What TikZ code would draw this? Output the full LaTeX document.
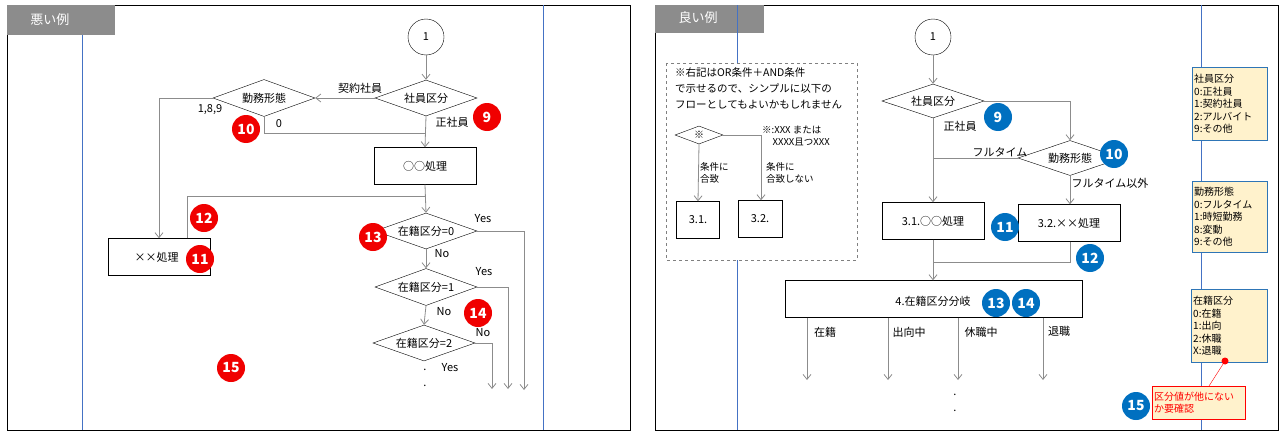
\documentclass[tikz,border=0pt]{standalone}
\usepackage{fontspec}
\setmainfont{Noto Sans CJK JP}
\usetikzlibrary{arrows.meta,shapes.geometric}
\definecolor{lg}{HTML}{8C8C8C}
\definecolor{bb}{HTML}{0070C0}
\definecolor{rb}{HTML}{F00000}
\definecolor{ly}{HTML}{FFF2CC}
\definecolor{lb}{HTML}{2E75B6}
\definecolor{vl}{HTML}{4472C4}
\tikzset{
 ln/.style={draw=lg,line width=0.8pt},
 ar/.style={ln,-{Straight Barb[length=5pt,width=8pt]}},
 dia/.style={draw,diamond,aspect=2.8,inner sep=0pt,font=\fontsize{11}{13}\selectfont},
 bx/.style={draw,font=\fontsize{11}{13}\selectfont},
 lab/.style={font=\fontsize{11}{13}\selectfont,inner sep=0pt},
 rbad/.style={circle,fill=rb,text=white,minimum size=28pt,inner sep=0pt,font=\fontsize{14}{14}\selectfont\bfseries},
 bbad/.style={circle,fill=bb,text=white,minimum size=28pt,inner sep=0pt,font=\fontsize{14}{14}\selectfont\bfseries},
 leg/.style={draw=lb,fill=ly,align=left,anchor=north west,inner sep=2pt,font=\fontsize{10}{12.5}\selectfont},
 tab/.style={fill=gray!90,text=white,font=\fontsize{13}{15}\selectfont}
}
\begin{document}
\begin{tikzpicture}[x=1pt,y=-1pt]
\useasboundingbox (0,0) rectangle (1280,431);
% ---------- left panel
\draw[line width=0.8pt] (7,5) rectangle (630,430);
\draw[vl] (82,5) -- (82,430);
\draw[vl] (543,5) -- (543,430);
\fill[gray!90] (7,5) rectangle (115,35);
\node[tab] (t1) at (50,20) {悪い例};
\node[draw,circle,minimum size=36pt,inner sep=0pt,font=\fontsize{11}{13}\selectfont,fill=white] (c1) at (426,37) {1};
\node[dia,minimum width=102pt,minimum height=36pt] (s1) at (426,98) {社員区分};
\node[dia,minimum width=102pt,minimum height=37pt] (k1) at (264,98) {勤務形態};
\node[bx,minimum width=102pt,minimum height=37pt] (p1) at (425,166) {○○処理};
\node[bx,minimum width=102pt,minimum height=37pt] (x1) at (159,257) {~~××処理~~~~~};
\node[dia,minimum width=102pt,minimum height=36pt] (z0) at (426,231) {在籍区分=0};
\node[dia,minimum width=102pt,minimum height=37pt] (z1) at (426,287) {在籍区分=1};
\node[dia,minimum width=102pt,minimum height=36pt] (z2) at (424,343) {在籍区分=2};
\draw[ar] (c1) -- (s1);
\draw[ar] (s1.west) -- (k1.east);
\draw[ar] (s1.south) -- (p1.north);
\draw[ln] (k1.south) -- (264,133) -- (426,133);
\draw[ar] (k1.west) -- (159,98) -- (x1.north -| 159,0);
\draw[ar] (p1.south) -- (z0.north);
\draw[ln] (x1.north -| 187,0) -- (187,196) -- (426,196);
\draw[ar] (z0.south) -- (z1.north);
\draw[ar] (z1.south) -- (z2.north);
\coordinate (e0) at (524,390);\coordinate (e1) at (508,389);\coordinate (e2) at (492,389);
\draw[ar] (z0.east) -- (e0 |- z0.east) -- (e0);
\draw[ar] (z1.east) -- (e1 |- z1.east) -- (e1);
\draw[ar] (z2.east) -- (e2 |- z2.east) -- (e2);
\node[lab] (l1) at (360,88) {契約社員};
\node[lab] (l2) at (452,122) {正社員};
\node[lab] (l3) at (279,124) {0};
\node[lab] (l4) at (210,110) {1,8,9};
\node[lab] (l5) at (483,219) {Yes};
\node[lab] (l6) at (442,254) {No};
\node[lab] (l7) at (484,272) {Yes};
\node[lab] (l8) at (444,312) {No};
\node[lab] (l9) at (483,333) {No};
\node[lab] (l10) at (450,368) {Yes};
\node[lab] (d1) at (425,370) {.};
\node[lab] (d2) at (425,386) {.};
\node[rbad] (r9) at (487,117) {9};
\node[rbad] (r10) at (246,129) {10};
\node[rbad] (r11) at (200,259) {11};
\node[rbad] (r12) at (204,218) {12};
\node[rbad] (r13) at (373,237) {13};
\node[rbad] (r14) at (478,313) {14};
\node[rbad] (r15) at (231,368) {15};
% ---------- right panel
\draw[line width=0.8pt] (655,5) rectangle (1278,430);
\fill[gray!90] (655,5) rectangle (764,33);
\node[tab] (t2) at (698,18) {良い例};
\draw[vl] (737,5) -- (737,430);
\draw[vl] (1201,5) -- (1201,430);
\draw[dashed,gray,fill=white] (666,63) rectangle (857,260);
\node[lab,anchor=north west,align=left,font=\fontsize{10.5}{16}\selectfont] (note) at (675,67) {※右記はOR条件＋AND条件\\で示せるので、シンプルに以下の\\フローとしてもよいかもしれません};
\node[draw,diamond,aspect=2.7,minimum width=48pt,minimum height=18pt,inner sep=0pt,font=\fontsize{10}{10}\selectfont] (sm) at (699,135) {※};
\node[bx,minimum width=43pt,minimum height=37pt] (b31) at (698,220) {3.1.};
\node[bx,minimum width=44pt,minimum height=37pt] (b32) at (760,219) {3.2.};
\draw[ar] (sm.south) -- (b31.north);
\draw[ar] (sm.east) -- (761,135) -- (b32.north -| 761,0);
\node[lab,anchor=west,align=left,font=\fontsize{9.5}{11.5}\selectfont] (n1) at (762,136) {※:XXX または\\\hspace{1.1em}XXXX且つXXX};
\node[lab,anchor=west,align=left,font=\fontsize{9.5}{11.5}\selectfont] (n2) at (700,173) {条件に\\合致};
\node[lab,anchor=west,align=left,font=\fontsize{9.5}{11.5}\selectfont] (n3) at (766,173) {条件に\\合致しない};
\node[draw,circle,minimum size=36pt,inner sep=0pt,font=\fontsize{11}{13}\selectfont,fill=white] (c2) at (933,37) {1};
\node[dia,minimum width=102pt,minimum height=34pt] (s2) at (933,101) {社員区分};
\node[dia,minimum width=104pt,minimum height=35pt] (k2) at (1070,158) {勤務形態};
\node[bx,minimum width=102pt,minimum height=37pt] (p31) at (933,221) {3.1.○○処理};
\node[bx,minimum width=102pt,minimum height=37pt] (p32) at (1069,223) {3.2.××処理};
\node[bx,minimum width=297pt,minimum height=37pt] (p4) at (933.5,299) {};
\node[lab] (p4t) at (933,301) {4.在籍区分分岐};
\draw[ar] (c2) -- (s2);
\draw[ar] (s2.east) -- (1070,101) -- (k2.north);
\draw[ar] (s2.south) -- (p31.north);
\draw[ln] (k2.west) -- (933,158);
\draw[ar] (k2.south) -- (p32.north -| k2.south);
\draw[ar] (p31.south) -- (p4.north -| p31.south);
\draw[ln] (p32.south -| k2.south) -- (1070,262) -- (933,262);
\foreach \x/\n in {807/a,888/b,958/c,1043/d}{
 \coordinate (q\n) at (\x,380);
 \draw[ar] (p4.south -| q\n) -- (q\n);
}
\node[lab] (m1) at (825,332) {在籍};
\node[lab] (m2) at (909,332) {出向中};
\node[lab] (m3) at (981,332) {休職中};
\node[lab] (m4) at (1059,331) {退職};
\node[lab] (m5) at (960,126) {正社員};
\node[lab] (m6) at (1000,152) {フルタイム};
\node[lab] (m7) at (1110,183) {フルタイム以外};
\node[lab] (d3) at (955,395) {.};
\node[lab] (d4) at (955,411) {.};
\node[bbad] (b9) at (998,117) {9};
\node[bbad] (b10) at (1114,154) {10};
\node[bbad] (b11) at (1005,227) {11};
\node[bbad] (b12) at (1090,258) {12};
\node[bbad] (b13) at (996,303) {13};
\node[bbad] (b14) at (1026,303) {14};
\node[leg,text width=71pt,minimum height=73pt] (g1) at (1192,67) {社員区分\\0:正社員\\1:契約社員\\2:アルバイト\\9:その他};
\node[leg,text width=71pt,minimum height=71pt] (g2) at (1192,181) {勤務形態\\0:フルタイム\\1:時短勤務\\8:変動\\9:その他};
\node[leg,text width=72pt,minimum height=73pt] (g3) at (1191,289) {在籍区分\\0:在籍\\1:出向\\2:休職\\X:退職};
\node[draw=red,fill=ly,text=red,align=left,anchor=north west,inner sep=2pt,text width=89pt,minimum height=33pt,font=\fontsize{10}{12}\selectfont] (call) at (1152,386) {区分値が他にない\\か要確認};
\coordinate (pt) at (1225,361);
\draw[red] (pt) -- (call.north -| 1209,0);
\fill[red] (pt) circle (3.5pt);
\node[bbad] (b15) at (1136,406) {15};
\end{tikzpicture}
\end{document}
